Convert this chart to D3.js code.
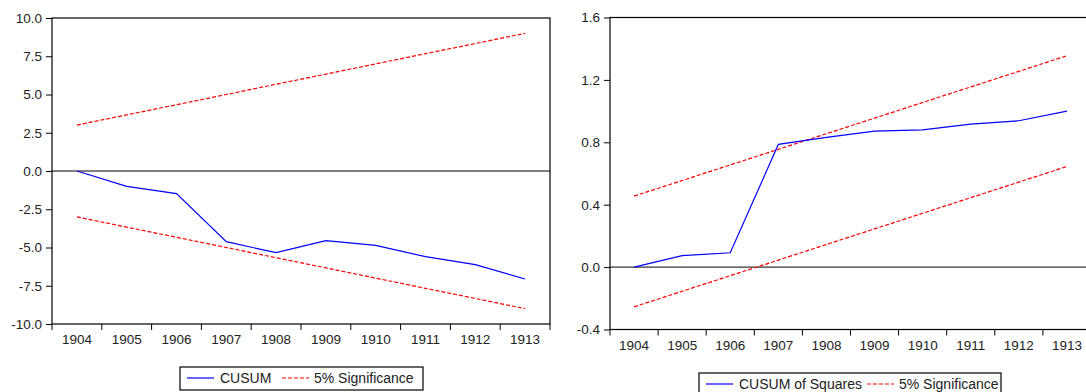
<!DOCTYPE html>
<html>
<head>
<meta charset="utf-8">
<script src="https://cdn.jsdelivr.net/npm/d3@7"></script>
<style>
  html, body { margin: 0; padding: 0; background: #fff; }
  svg { display: block; font-family: "Liberation Sans", Arial, sans-serif; }
  .tick text { fill: #222; }
</style>
</head>
<body>
<svg id="chart" width="1086" height="392"></svg>
<script>
// years on the x axis (shared by both panels)
const years = ['1904', '1905', '1906', '1907', '1908', '1909', '1910', '1911', '1912', '1913'];

// left panel: CUSUM and 5% bounds
const cusum = [0, -1.0, -1.48, -4.62, -5.34, -4.55, -4.86, -5.6, -6.12, -7.06];
const cusumUpper = [3.0, 3.67, 4.33, 5.0, 5.67, 6.33, 7.0, 7.67, 8.33, 9.0];
const cusumLower = [-3.0, -3.67, -4.33, -5.0, -5.67, -6.33, -7.0, -7.67, -8.33, -9.0];
const cusumTicks = [10, 7.5, 5, 2.5, 0, -2.5, -5, -7.5, -10];

// right panel: CUSUM of squares and 5% bounds
const cusumSq = [0, 0.073, 0.092, 0.787, 0.832, 0.872, 0.88, 0.917, 0.938, 1.0];
const sqUpper = [0.455, 0.555, 0.655, 0.755, 0.855, 0.955, 1.055, 1.155, 1.255, 1.355];
const sqLower = [-0.255, -0.155, -0.055, 0.045, 0.145, 0.245, 0.345, 0.445, 0.545, 0.645];
const sqTicks = [1.6, 1.2, 0.8, 0.4, 0, -0.4];

const svg = d3.select('#chart');
const fmt = d => d.toFixed(1);

function drawPanel(p) {
  const g = svg.append('g').attr('transform', 'translate(' + p.left + ',' + p.top + ')');

  const x = d3.scaleBand().domain(years).range([0, p.width]);
  const y = d3.scaleLinear().domain(p.domain).range([p.height, 0]);

  // zero line
  g.append('line')
    .attr('x1', 0).attr('x2', p.width)
    .attr('y1', y(0)).attr('y2', y(0))
    .attr('stroke', '#000').attr('stroke-width', 1);

  const line = d3.line()
    .x((d, i) => x(years[i]) + x.bandwidth() / 2)
    .y(d => y(d));

  // significance bands
  [p.upper, p.lower].forEach(s => {
    g.append('path')
      .datum(s)
      .attr('fill', 'none')
      .attr('stroke', '#ff0000')
      .attr('stroke-width', 1.2)
      .attr('stroke-dasharray', '4,2')
      .attr('d', line);
  });

  // main series
  g.append('path')
    .datum(p.series)
    .attr('fill', 'none')
    .attr('stroke', '#0000ff')
    .attr('stroke-width', 1.2)
    .attr('d', line);

  // frame
  g.append('rect')
    .attr('x', 0).attr('y', 0)
    .attr('width', p.width).attr('height', p.height)
    .attr('fill', 'none').attr('stroke', '#000').attr('stroke-width', 1.2);

  // y axis
  const ya = g.append('g')
    .call(d3.axisLeft(y).tickValues(p.ticks).tickFormat(fmt).tickSize(6).tickPadding(4));
  ya.select('.domain').remove();
  ya.selectAll('.tick line').attr('stroke', '#000');
  ya.selectAll('.tick text').attr('font-size', '13.5px');

  // x axis: ticks on the band boundaries, labels centred
  const xa = g.append('g').attr('transform', 'translate(0,' + p.height + ')');
  xa.selectAll('line.xt')
    .data(years.concat(['end']))
    .enter().append('line')
    .attr('class', 'xt')
    .attr('x1', (d, i) => i * x.step())
    .attr('x2', (d, i) => i * x.step())
    .attr('y1', 0).attr('y2', 6)
    .attr('stroke', '#000');
  xa.selectAll('text')
    .data(years)
    .enter().append('text')
    .attr('x', d => x(d) + x.bandwidth() / 2)
    .attr('y', 20)
    .attr('text-anchor', 'middle')
    .attr('font-size', '13.5px')
    .attr('fill', '#222')
    .text(d => d);

  // legend
  const lg = svg.append('g').attr('transform', 'translate(' + p.legend.x + ',' + p.legend.y + ')');
  lg.append('rect')
    .attr('x', 0).attr('y', 0)
    .attr('width', p.legend.w).attr('height', p.legend.h)
    .attr('fill', '#fff').attr('stroke', '#000').attr('stroke-width', 1.2);
  lg.append('line')
    .attr('x1', 7).attr('x2', 34).attr('y1', 11).attr('y2', 11)
    .attr('stroke', '#0000ff').attr('stroke-width', 1.2);
  lg.append('text')
    .attr('x', 40).attr('y', 16)
    .attr('font-size', '14px').attr('fill', '#222')
    .text(p.legend.label);
  lg.append('line')
    .attr('x1', p.legend.dashX).attr('x2', p.legend.dashX + 27).attr('y1', 11).attr('y2', 11)
    .attr('stroke', '#ff0000').attr('stroke-width', 1.2).attr('stroke-dasharray', '4,2');
  lg.append('text')
    .attr('x', p.legend.dashX + 32).attr('y', 16)
    .attr('font-size', '14px').attr('fill', '#222')
    .text('5% Significance');
}

drawPanel({
  left: 52, top: 18, width: 498, height: 306,
  domain: [-10, 10], ticks: cusumTicks,
  series: cusum, upper: cusumUpper, lower: cusumLower,
  legend: { x: 180, y: 367, w: 243, h: 23, label: 'CUSUM', dashX: 102 }
});

drawPanel({
  left: 610, top: 17.5, width: 481, height: 312,
  domain: [-0.4, 1.6], ticks: sqTicks,
  series: cusumSq, upper: sqUpper, lower: sqLower,
  legend: { x: 699, y: 373, w: 302, h: 23, label: 'CUSUM of Squares', dashX: 168 }
});
</script>
</body>
</html>
